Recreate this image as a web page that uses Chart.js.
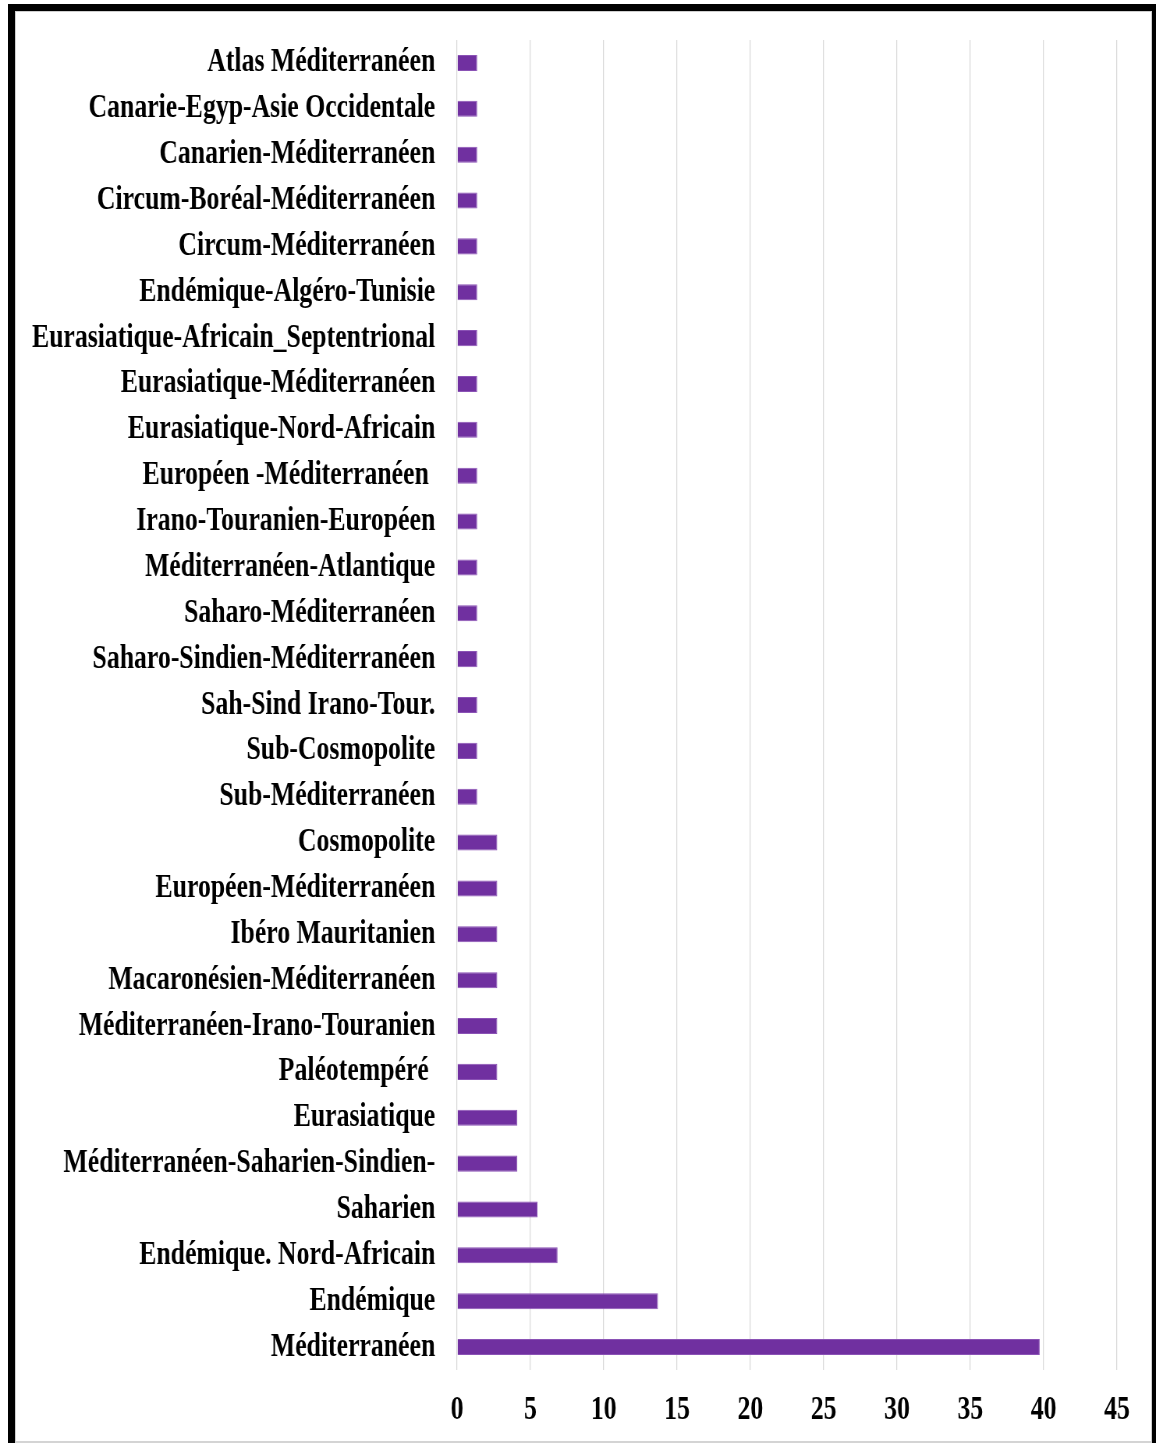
<!DOCTYPE html>
<html>
<head>
<meta charset="utf-8">
<script src="https://cdn.jsdelivr.net/npm/chart.js@4.4.1/dist/chart.umd.min.js"></script>
<style>
  html, body { margin: 0; padding: 0; background: #fff; overflow: hidden; }
  .frame {
    position: absolute; left: 8px; top: 4px;
    width: 1137px; height: 1439px;
    border-top: 7px solid #000; border-left: 7px solid #000; border-right: 4px solid #000;
  }
  .inner {
    position: absolute; left: 0; top: 0; right: 0; height: 1429px;
    border: 1px solid #cfcfcf; border-bottom: 2px solid #d4d4d4;
  }
  /* text in the original is a condensed bold serif, so the whole chart is squeezed sideways */
  .wrap {
    position: absolute; left: 0; top: 0;
    width: 1482px; height: 1443px;
    transform: scaleX(0.78); transform-origin: 0 0;
  }
</style>
</head>
<body>
<div class="frame"><div class="inner"></div></div>
<div class="wrap"><canvas id="myChart" width="1482" height="1443"></canvas></div>
<script>
var categories = [
  'Atlas Méditerranéen',
  'Canarie-Egyp-Asie Occidentale',
  'Canarien-Méditerranéen',
  'Circum-Boréal-Méditerranéen',
  'Circum-Méditerranéen',
  'Endémique-Algéro-Tunisie',
  'Eurasiatique-Africain_Septentrional',
  'Eurasiatique-Méditerranéen',
  'Eurasiatique-Nord-Africain',
  'Européen -Méditerranéen ',
  'Irano-Touranien-Européen',
  'Méditerranéen-Atlantique',
  'Saharo-Méditerranéen',
  'Saharo-Sindien-Méditerranéen',
  'Sah-Sind Irano-Tour.',
  'Sub-Cosmopolite',
  'Sub-Méditerranéen',
  'Cosmopolite',
  'Européen-Méditerranéen',
  'Ibéro Mauritanien',
  'Macaronésien-Méditerranéen',
  'Méditerranéen-Irano-Touranien',
  'Paléotempéré ',
  'Eurasiatique',
  'Méditerranéen-Saharien-Sindien-',
  'Saharien',
  'Endémique. Nord-Africain',
  'Endémique',
  'Méditerranéen'
];

var values = [
  1.37, 1.37, 1.37, 1.37, 1.37, 1.37, 1.37, 1.37, 1.37, 1.37,
  1.37, 1.37, 1.37, 1.37, 1.37, 1.37, 1.37,
  2.74, 2.74, 2.74, 2.74, 2.74, 2.74,
  4.11, 4.11,
  5.48,
  6.85,
  13.7,
  39.73
];

var xMin = 0;
var xMax = 45;
var xStep = 5;

var labelFont = { family: "'Liberation Serif', 'Times New Roman', serif", size: 33, weight: 'bold' };

var ctx = document.getElementById('myChart');

var myChart = new Chart(ctx, {
  type: 'bar',
  data: {
    labels: categories,
    datasets: [{
      data: values,
      backgroundColor: '#7030A0',
      borderColor: '#8a52b5',
      borderWidth: 1,
      categoryPercentage: 1,
      barPercentage: 0.35
    }]
  },
  options: {
    indexAxis: 'y',
    responsive: false,
    animation: false,
    layout: {
      padding: { left: 0, right: 50, top: 40, bottom: 0 }
    },
    plugins: {
      legend: { display: false },
      tooltip: { enabled: false }
    },
    scales: {
      x: {
        min: xMin,
        max: xMax,
        border: { display: false },
        grid: {
          color: '#d9d9d9',
          lineWidth: 1.25,
          drawTicks: false
        },
        ticks: {
          stepSize: xStep,
          color: '#000',
          font: labelFont,
          padding: 21,
          maxRotation: 0
        },
        afterFit: function (scale) { scale.height = 73; }
      },
      y: {
        border: { display: false },
        grid: { display: false, drawTicks: false },
        ticks: {
          color: '#000',
          font: labelFont,
          padding: 28,
          autoSkip: false
        },
        afterFit: function (scale) {
          scale.width = 586;
          scale.paddingTop = 0;
          scale.paddingBottom = 0;
        }
      }
    }
  }
});
</script>
</body>
</html>
